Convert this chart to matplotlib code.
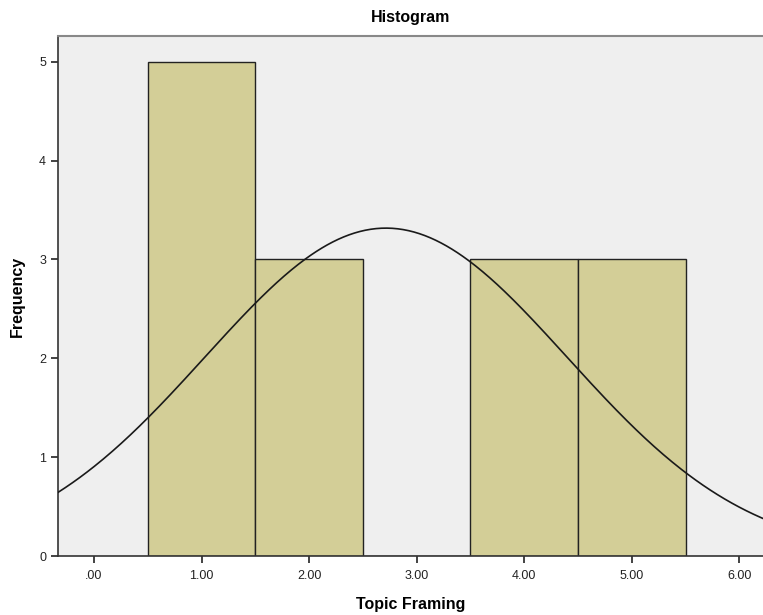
import numpy as np
import matplotlib
matplotlib.use('Agg')
import matplotlib.pyplot as plt

## data: integer scores and their frequencies
values = [1, 2, 3, 4, 5]
counts = [5, 3, 0, 3, 3]
xticks = [0, 1, 2, 3, 4, 5, 6]
xticklabels = ['.00', '1.00', '2.00', '3.00', '4.00', '5.00', '6.00']
yticks = [0, 1, 2, 3, 4, 5]

plt.rcParams['font.family'] = ['Liberation Sans', 'DejaVu Sans']

## normal curve from the data
obs = np.repeat(values, counts)
n = len(obs)
mu = obs.mean()
sd = obs.std(ddof=1)
binw = 1.0

fig = plt.figure(figsize=(7.63, 6.15), dpi=100)
ax = fig.add_axes([0.076, 0.0959, 0.924, 0.8455])
ax.set_facecolor('#efefef')

ax.bar(values, counts, width=binw, color='#d3ce97', edgecolor='#222222',
       linewidth=1.0, zorder=2)

xs = np.linspace(-0.4, 6.3, 400)
ys = n * binw / (sd * np.sqrt(2 * np.pi)) * np.exp(-0.5 * ((xs - mu) / sd) ** 2)
ax.plot(xs, ys, color='#1a1a1a', linewidth=1.2, zorder=3)

ax.set_xlim(-0.335, 6.22)
ax.set_ylim(0, 5.26)
ax.set_xticks(xticks)
ax.set_xticklabels(xticklabels)
ax.set_yticks(yticks)
ax.tick_params(axis='both', direction='out', length=5, width=1.2,
               colors='#222222', labelsize=9, labelcolor='#222222')
ax.tick_params(axis='x', pad=5)

ax.spines['right'].set_visible(False)
ax.spines['top'].set_color('#888888')
ax.spines['top'].set_linewidth(1.5)
for s in ['left', 'bottom']:
    ax.spines[s].set_color('#333333')
    ax.spines[s].set_linewidth(1.2)

ax.set_title('Histogram', fontsize=11.5, fontweight='bold', pad=10)
ax.set_xlabel('Topic Framing', fontsize=11.5, fontweight='bold', labelpad=11)
ax.set_ylabel('Frequency', fontsize=11.5, fontweight='bold', labelpad=10)

fig.savefig('out.png', dpi=100)
